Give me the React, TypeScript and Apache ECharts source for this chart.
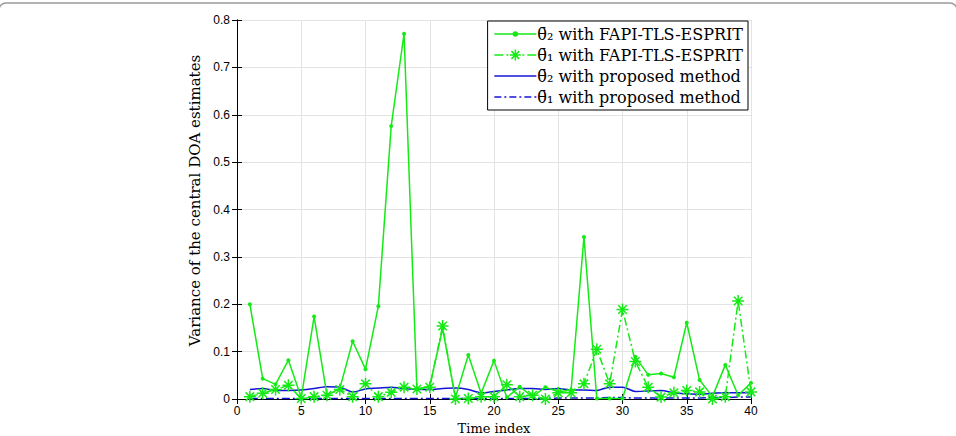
import React, { useEffect, useRef } from "react";
import * as echarts from "echarts";

const timeIndex = [1, 2, 3, 4, 5, 6, 7, 8, 9, 10, 11, 12, 13, 14, 15, 16, 17, 18, 19, 20, 21, 22, 23, 24, 25, 26, 27, 28, 29, 30, 31, 32, 33, 34, 35, 36, 37, 38, 39, 40];

const fapiTheta2 = [0.2, 0.043, 0.031, 0.082, 0.003, 0.174, 0.008, 0.022, 0.122, 0.063, 0.196, 0.576, 0.771, 0.021, 0.027, 0.148, 0.003, 0.093, 0.012, 0.081, 0.003, 0.026, 0.005, 0.025, 0.015, 0.019, 0.342, 0.001, 0.001, 0.001, 0.089, 0.051, 0.054, 0.046, 0.161, 0.04, 0.005, 0.072, 0.008, 0.034];

const fapiTheta1 = [0.005, 0.012, 0.02, 0.029, 0.001, 0.005, 0.008, 0.02, 0.005, 0.032, 0.005, 0.014, 0.025, 0.021, 0.025, 0.154, 0.0, 0.001, 0.005, 0.005, 0.03, 0.005, 0.008, 0.0, 0.013, 0.013, 0.032, 0.105, 0.032, 0.189, 0.079, 0.025, 0.004, 0.013, 0.018, 0.015, 0.0, 0.005, 0.207, 0.015];

const proposedTheta2 = [0.02, 0.022, 0.018, 0.018, 0.019, 0.022, 0.026, 0.025, 0.015, 0.021, 0.023, 0.025, 0.022, 0.02, 0.02, 0.022, 0.023, 0.02, 0.013, 0.016, 0.019, 0.022, 0.022, 0.02, 0.022, 0.019, 0.019, 0.018, 0.025, 0.025, 0.016, 0.017, 0.018, 0.013, 0.011, 0.01, 0.012, 0.013, 0.013, 0.013];

const proposedTheta1 = [0.001, 0.001, 0.001, 0.001, 0.001, 0.001, 0.001, 0.001, 0.001, 0.001, 0.001, 0.001, 0.001, 0.001, 0.001, 0.001, 0.001, 0.001, 0.001, 0.001, 0.001, 0.001, 0.001, 0.001, 0.002, 0.002, 0.002, 0.002, 0.003, 0.003, 0.002, 0.002, 0.002, 0.002, 0.002, 0.002, 0.003, 0.003, 0.004, 0.004];

const seriesNames = [
  "\u03B8\u0304\u2082 with FAPI-TLS-ESPRIT",
  "\u03B8\u0304\u2081 with FAPI-TLS-ESPRIT",
  "\u03B8\u0304\u2082 with proposed method",
  "\u03B8\u0304\u2081 with proposed method",
];

const xTicks = [0, 40, 5];
const yTicks = [0, 0.8, 0.1];

const GREEN = "#14ea14";
const BLUE = "#1414d8";
const STAR = "path://M0,-10L0,10M-10,0L10,0M-7.07,-7.07L7.07,7.07M-7.07,7.07L7.07,-7.07";

// legend icons drawn in a 42x14 box
const ICON_BOX = "M0,0M42,14";
const legendIcons = [
  `path://${ICON_BOX}M0,7L42,7M19,7A2,2,0,1,0,23,7A2,2,0,1,0,19,7Z`,
  `path://${ICON_BOX}M0,7L9,7M12,7L14,7M28,7L30,7M33,7L42,7M21,1.5L21,12.5M15.5,7L26.5,7M17.1,3.1L24.9,10.9M17.1,10.9L24.9,3.1`,
  `path://${ICON_BOX}M0,7L42,7`,
  `path://${ICON_BOX}M0,7L7,7M10,7L12,7M15,7L22,7M25,7L27,7M30,7L37,7M40,7L42,7`,
];

const pairs = (ys: number[]) => timeIndex.map((t, i) => [t, ys[i]]);

export default function App() {
  const ref = useRef<HTMLDivElement>(null);
  useEffect(() => {
    const chart = echarts.init(ref.current!, null, { renderer: "svg" });
    const sans = "Liberation Sans";
    const serif = "DejaVu Serif";
    const axisCommon = {
      type: "value" as const,
      axisLine: { show: true, lineStyle: { color: "#000", width: 1 } },
      axisTick: { show: true, inside: true, length: 5, lineStyle: { color: "#000" } },
    };
    const legendColors = [GREEN, GREEN, BLUE, BLUE];
    chart.setOption({
      animation: false,
      backgroundColor: "#fff",
      graphic: [
        {
          type: "rect",
          shape: { x: -1, y: 3, width: 958, height: 500, r: 7 },
          style: { fill: "none", stroke: "#9a9a9a", lineWidth: 1.5 },
          silent: true,
        },
      ],
      grid: {
        left: 237,
        right: 205,
        top: 20,
        bottom: 37,
        containLabel: false,
        outerBoundsMode: "none",
      },
      legend: {
        orient: "vertical",
        right: 208,
        top: 21,
        backgroundColor: "#fff",
        borderColor: "#000",
        borderWidth: 1,
        borderRadius: 0,
        padding: [5, 5, 5, 6],
        itemGap: 5,
        itemWidth: 42,
        itemHeight: 14,
        textStyle: { fontFamily: serif, fontSize: 16, color: "#000", padding: [0, 0, 0, -4] },
        data: seriesNames.map((name, i) => ({
          name,
          icon: legendIcons[i],
          itemStyle: {
            color: legendColors[i],
            borderColor: legendColors[i],
            borderWidth: 1.5,
          },
        })),
      },
      xAxis: [
        {
          ...axisCommon,
          min: xTicks[0],
          max: xTicks[1],
          interval: xTicks[2],
          name: "Time index",
          nameLocation: "middle",
          nameGap: 15,
          nameTextStyle: { fontFamily: serif, fontSize: 13, lineHeight: 14, color: "#000" },
          axisLabel: { fontFamily: sans, fontSize: 12, color: "#000", margin: 6 },
          splitLine: { show: true, lineStyle: { color: "#e3e3e3" } },
        },
        {
          ...axisCommon,
          position: "top",
          min: xTicks[0],
          max: xTicks[1],
          interval: xTicks[2],
          axisLabel: { show: false },
          splitLine: { show: false },
        },
      ],
      yAxis: [
        {
          ...axisCommon,
          min: yTicks[0],
          max: yTicks[1],
          interval: yTicks[2],
          name: "Variance of the central DOA estimates",
          nameLocation: "middle",
          nameGap: 31,
          nameTextStyle: {
            fontFamily: serif,
            fontSize: 15,
            color: "#000",
            padding: [0, 0, 0, 18],
          },
          axisLabel: { fontFamily: sans, fontSize: 12, color: "#000", margin: 7 },
          splitLine: { show: true, lineStyle: { color: "#e3e3e3" } },
        },
        {
          ...axisCommon,
          position: "right",
          min: yTicks[0],
          max: yTicks[1],
          interval: yTicks[2],
          axisLabel: { show: false },
          splitLine: { show: false },
        },
      ],
      series: [
        {
          name: seriesNames[0],
          type: "line",
          data: pairs(fapiTheta2),
          symbol: "circle",
          symbolSize: 4,
          lineStyle: { color: GREEN, width: 1.5 },
          itemStyle: { color: GREEN },
          z: 4,
        },
        {
          name: seriesNames[1],
          type: "line",
          data: pairs(fapiTheta1),
          symbol: STAR,
          symbolSize: 12,
          lineStyle: { color: GREEN, width: 1.5, type: [8, 3, 2, 3] },
          itemStyle: { color: GREEN, borderColor: GREEN, borderWidth: 1.5 },
          z: 3,
        },
        {
          name: seriesNames[2],
          type: "line",
          data: pairs(proposedTheta2),
          symbol: "none",
          smooth: 0.3,
          lineStyle: { color: BLUE, width: 1.5 },
          itemStyle: { color: BLUE },
          z: 2,
        },
        {
          name: seriesNames[3],
          type: "line",
          data: pairs(proposedTheta1),
          symbol: "none",
          lineStyle: { color: BLUE, width: 1.5, type: [8, 3, 2, 3] },
          itemStyle: { color: BLUE },
          z: 2,
        },
      ],
    });
    return () => chart.dispose();
  }, []);
  return (
    <div
      ref={ref}
      style={{ position: "fixed", left: 0, top: 0, width: 956, height: 436 }}
    />
  );
}
